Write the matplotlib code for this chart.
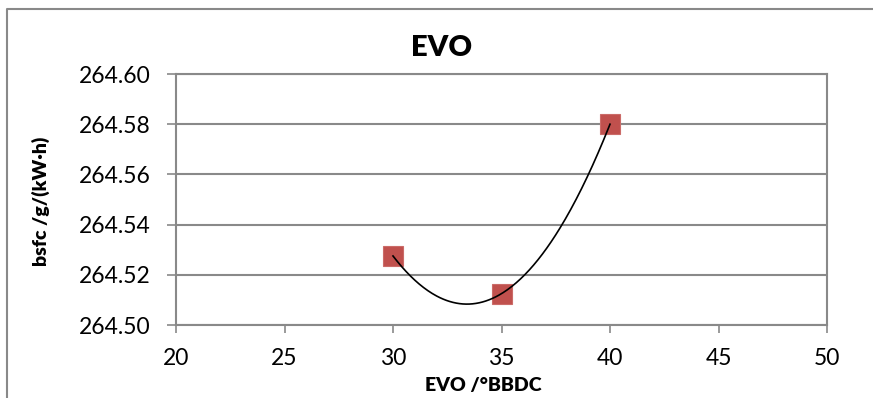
import numpy as np
import matplotlib.pyplot as plt
from matplotlib.lines import Line2D

# EVO timing sweep and measured brake specific fuel consumption
evo_deg = [30, 35, 40]
bsfc = [264.5275, 264.5125, 264.58]

x_ticks = [20, 25, 30, 35, 40, 45, 50]
y_ticks = [264.50, 264.52, 264.54, 264.56, 264.58, 264.60]

plt.rcParams['font.family'] = ['Lato', 'DejaVu Sans']

grey = '#898989'
red = '#C0504D'

fig = plt.figure(figsize=(8.73, 3.98), dpi=100)
ax = fig.add_axes([176 / 873, 1 - 325 / 398, (827 - 176) / 873, (325 - 74) / 398])

# chart-area border (runs off the right and bottom edges)
fig.add_artist(Line2D([7 / 873, 7 / 873, 1.0], [0.0, 1 - 9 / 398, 1 - 9 / 398],
                      transform=fig.transFigure, color=grey, lw=1.5))

# second-order polynomial trendline
coef = np.polyfit(evo_deg, bsfc, 2)
xs = np.linspace(min(evo_deg), max(evo_deg), 200)
ax.plot(xs, np.polyval(coef, xs), color='black', lw=1.2, zorder=4)

ax.plot(evo_deg, bsfc, linestyle='none', marker='s', markersize=14.4,
        markerfacecolor=red, markeredgecolor='#CB6B68', markeredgewidth=0.8, zorder=3)

ax.set_xlim(20, 50)
ax.set_ylim(264.50, 264.60)
ax.set_xticks(x_ticks)
ax.set_yticks(y_ticks)
ax.set_xticklabels([str(v) for v in x_ticks])
ax.set_yticklabels([f'{v:.2f}' for v in y_ticks])

ax.grid(axis='y', color=grey, lw=1.5)
ax.set_axisbelow(True)
for s in ax.spines.values():
    s.set_color(grey)
    s.set_linewidth(1.5)

ax.tick_params(axis='x', direction='out', length=5.5, width=1.2, color=grey,
               labelsize=16.5, pad=11)
ax.tick_params(axis='y', direction='out', length=6.5, width=1.2, color=grey,
               labelsize=16.5, pad=12)

fig.text(442 / 873, 1 - 48 / 398, 'EVO', ha='center', va='center',
         fontsize=21, fontweight='heavy')
fig.text(483.5 / 873, 1 - 386 / 398, 'EVO /°BBDC', ha='center', va='center',
         fontsize=14, fontweight='heavy')
fig.text(41 / 873, 1 - 201 / 398, 'bsfc /g/(kW·h)', ha='center', va='center',
         rotation=90, fontsize=14, fontweight='heavy')

fig.savefig('out.png', dpi=100)
